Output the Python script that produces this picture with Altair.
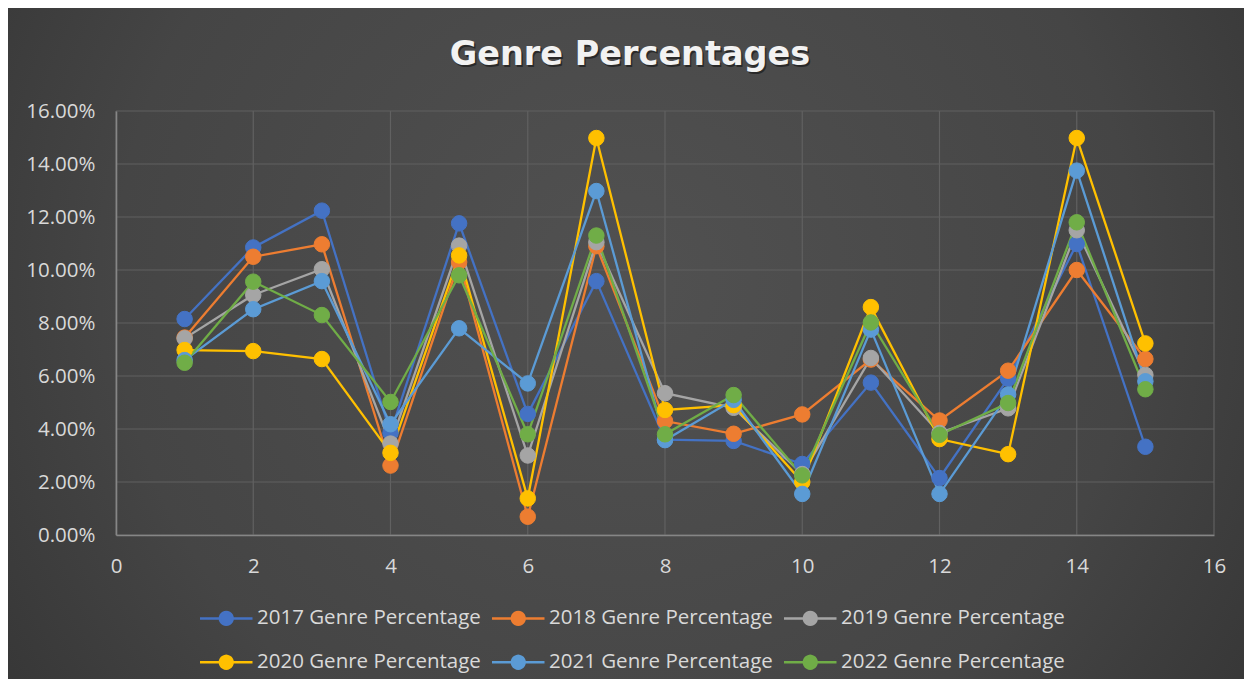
import math
import altair as alt
import pandas as pd

# ---------------- data ----------------
genres = list(range(1, 16))
series_names = [
    "2017 Genre Percentage",
    "2018 Genre Percentage",
    "2019 Genre Percentage",
    "2020 Genre Percentage",
    "2021 Genre Percentage",
    "2022 Genre Percentage",
]
v2017 = [8.15, 10.85, 12.24, 3.85, 11.76, 4.57, 9.58, 3.60, 3.55, 2.68, 5.75, 2.15, 5.90, 10.98, 3.33]
v2018 = [7.45, 10.50, 10.97, 2.62, 10.30, 0.69, 10.90, 4.30, 3.82, 4.55, 6.62, 4.32, 6.20, 10.00, 6.64]
v2019 = [7.42, 9.06, 10.03, 3.45, 10.92, 3.00, 11.05, 5.35, 4.80, 2.30, 6.68, 3.85, 4.78, 11.50, 6.04]
v2020 = [6.98, 6.94, 6.64, 3.10, 10.55, 1.38, 14.98, 4.72, 4.90, 2.00, 8.60, 3.62, 3.05, 14.98, 7.23]
v2021 = [6.60, 8.52, 9.58, 4.18, 7.80, 5.72, 12.98, 3.58, 5.10, 1.55, 7.75, 1.55, 5.30, 13.75, 5.80]
v2022 = [6.50, 9.56, 8.30, 5.02, 9.80, 3.80, 11.30, 3.80, 5.28, 2.25, 8.02, 3.78, 4.98, 11.80, 5.50]
all_values = [v2017, v2018, v2019, v2020, v2021, v2022]
colors = ["#4472C4", "#ED7D31", "#A5A5A5", "#FFC000", "#5B9BD5", "#70AD47"]
x_ticks = [0, 2, 4, 6, 8, 10, 12, 14, 16]
y_ticks = [0.0, 0.02, 0.04, 0.06, 0.08, 0.10, 0.12, 0.14, 0.16]
title_text = "Genre Percentages"

rows = []
for name, vals in zip(series_names, all_values):
    for g, v in zip(genres, vals):
        rows.append({"Genre": g, "Series": name, "Pct": v / 100.0})
df = pd.DataFrame(rows)

# ---------------- layout ----------------
W, H = 1098, 424
PAD = {"left": 108, "top": 103, "right": 30, "bottom": 144}
LABEL_COLOR = "#d9d9d9"

xscale = alt.Scale(domain=[0, 16], nice=False, zero=False)
yscale = alt.Scale(domain=[0, 0.16], nice=False, zero=False)
cscale = alt.Scale(domain=series_names, range=colors)

x_axis = alt.Axis(
    values=x_ticks, grid=False, ticks=False, domain=True, domainColor="#868686",
    domainWidth=1.6, labelFont="Open Sans", labelFontSize=20.5, labelColor=LABEL_COLOR,
    labelPadding=21, title=None, labelFlush=False, zindex=1,
)
y_axis = alt.Axis(
    values=y_ticks, format=".2%", grid=False, ticks=False, domain=True, domainColor="#868686",
    domainWidth=1.6, labelFont="Open Sans", labelFontSize=20.5, labelColor=LABEL_COLOR,
    labelPadding=21, title=None, zindex=1,
)

r = 0.85
circ = " ".join(
    ("M" if i == 0 else "L") + f" {r*math.cos(2*math.pi*i/24):.3f} {r*math.sin(2*math.pi*i/24):.3f}"
    for i in range(24)
) + " Z"
legend_symbol = f"M -3.5 0 L -{r} 0 M {r} 0 L 3.5 0 " + circ

legend = alt.Legend(
    title=None,
    orient="none",
    legendX=100,
    legendY=497,
    direction="horizontal",
    columns=3,
    symbolType=legend_symbol,
    symbolSize=225,
    symbolStrokeWidth=2.5,
    symbolOpacity=1,
    labelFont="Open Sans",
    labelFontSize=20.5,
    labelColor=LABEL_COLOR,
    labelLimit=400,
    labelOffset=20.5,
    columnPadding=6,
    rowPadding=20,
    zindex=1,
)

bg = alt.Chart(pd.DataFrame({"a": [0]})).mark_rect(
    fill={
        "gradient": "radial",
        "stops": [
            {"offset": 0, "color": "#515151"},
            {"offset": 0.55, "color": "#454545"},
            {"offset": 1, "color": "#2c2c2c"},
        ],
        "x1": 0.5, "y1": 0.45, "r1": 0,
        "x2": 0.5, "y2": 0.45, "r2": 0.75,
    }
).encode(
    x=alt.value(-PAD["left"]),
    x2=alt.value(W + PAD["right"]),
    y=alt.value(-PAD["top"]),
    y2=alt.value(H + PAD["bottom"]),
)

grid_color = "#616161"
xgrid = alt.Chart(pd.DataFrame({"gx": x_ticks})).mark_rule(
    color=grid_color, strokeWidth=1.2
).encode(x=alt.X("gx:Q", scale=xscale, axis=x_axis))

ygrid = alt.Chart(pd.DataFrame({"gy": y_ticks})).mark_rule(
    color=grid_color, strokeWidth=1.2
).encode(y=alt.Y("gy:Q", scale=yscale, axis=y_axis))

lines = alt.Chart(df).mark_line(strokeWidth=2.3).encode(
    x=alt.X("Genre:Q", scale=xscale, axis=x_axis),
    y=alt.Y("Pct:Q", scale=yscale, axis=y_axis),
    color=alt.Color("Series:N", scale=cscale, legend=legend),
)

points = alt.Chart(df).mark_point(filled=True, size=240, opacity=1, strokeWidth=1).encode(
    x=alt.X("Genre:Q", scale=xscale, axis=x_axis),
    y=alt.Y("Pct:Q", scale=yscale, axis=y_axis),
    fill=alt.Fill("Series:N", scale=cscale, legend=legend),
    stroke=alt.Stroke("Series:N", scale=cscale, legend=legend),
)

title_df = pd.DataFrame({"t": [title_text]})
title_shadow = alt.Chart(title_df).mark_text(
    font="DejaVu Sans", fontSize=33.5, fontWeight="bold", color="#000000", opacity=0.45,
    align="center", baseline="alphabetic", dx=1.5, dy=2,
).encode(x=alt.value(630 - 116), y=alt.value(65 - 111), text="t:N")

title = alt.Chart(title_df).mark_text(
    font="DejaVu Sans", fontSize=33.5, fontWeight="bold", color="#f2f2f2",
    align="center", baseline="alphabetic",
).encode(x=alt.value(630 - 116), y=alt.value(65 - 111), text="t:N")

chart = alt.layer(bg, xgrid, ygrid, lines, points, title_shadow, title).properties(
    width=W,
    height=H,
    padding=PAD,
    autosize=alt.AutoSizeParams(type="none"),
    background="#3a3a3a",
).configure_view(stroke=None)

chart.save("out.html", embed_options={"renderer": "svg", "actions": False})
